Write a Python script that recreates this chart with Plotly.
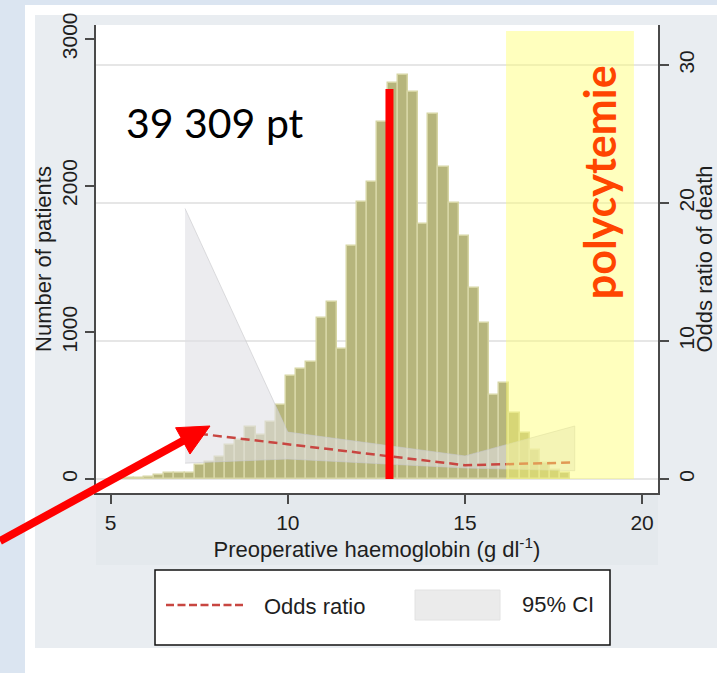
import plotly.graph_objects as go

# ---------------- data ----------------
# Histogram of preoperative haemoglobin (g/dl): 45 equal bins
HB_BIN_START = 5.08
HB_BIN_WIDTH = 0.2866
patients = [6, 8, 10, 12, 25, 40, 42, 44, 95, 116, 150, 232, 266, 354, 300,
            388, 504, 702, 750, 798, 1100, 1205, 886, 1588, 1888, 2025, 2434,
            2700, 2754, 2638, 1738, 2488, 2127, 1881, 1656, 1302, 1063, 573,
            656, 448, 316, 198, 109, 61, 41]

# Odds ratio of death (right axis)
or_hb = [7.1, 15.0, 18.1]
odds_ratio = [3.4, 1.0, 1.2]

# 95% confidence interval of the odds ratio
ci_hb = [7.1, 10.0, 15.0, 18.1]
ci_upper = [19.6, 3.4, 1.67, 3.84]
ci_lower = [1.15, 1.45, 0.8, 0.6]

# Overlaid annotations
median_hb = 12.87
median_line_top = 2659
poly_start, poly_end, poly_top = 16.16, 19.77, 3054
n_label = "39 309 pt"
poly_label = "polycytemie"
legend_labels = ["Odds ratio", "95% CI"]

x_ticks = [5, 10, 15, 20]
left_ticks = [0, 1000, 2000, 3000]
right_ticks = [0, 10, 20, 30]

# ---------------- figure ----------------
bin_centers = [HB_BIN_START + HB_BIN_WIDTH * (i + 0.5) for i in range(len(patients))]

AX = "#4a4a4a"
TXT = "#1e1e1e"
FONT = "Liberation Sans"
OR_COLOR = "rgb(200,70,65)"

fig = go.Figure()

fig.add_trace(go.Bar(
    x=bin_centers, y=patients, width=HB_BIN_WIDTH,
    marker=dict(color="rgb(182,181,124)", line=dict(color="rgb(214,213,164)", width=1.5)),
    showlegend=False, yaxis="y", hoverinfo="skip"))

fig.add_trace(go.Scatter(
    x=ci_hb + ci_hb[::-1], y=ci_upper + ci_lower[::-1],
    fill="toself", fillcolor="rgba(224,224,228,0.6)",
    line=dict(color="rgba(200,200,204,0.6)", width=1),
    mode="lines", name=legend_labels[1], yaxis="y2", showlegend=False))

fig.add_trace(go.Scatter(
    x=or_hb, y=odds_ratio, mode="lines", name=legend_labels[0],
    line=dict(color=OR_COLOR, width=2.5, dash="9px,5px"),
    yaxis="y2", showlegend=False))

# pixel geometry helpers for paper-referenced frame / legend / arrow
W, H = 717, 673
L, R, T, B = 96, 59, 25, 180
pw, ph = W - L - R, H - T - B


def px(xp):
    return (xp - L) / pw


def py(yp):
    return (H - B - yp) / ph


# arrow (pixel geometry of the slide decoration)
tail = (0, 541)
tip = (210, 426)
dx, dy = tip[0] - tail[0], tip[1] - tail[1]
ln = (dx * dx + dy * dy) ** 0.5
ux, uy = dx / ln, dy / ln
head_len, head_half = 31, 15
bx, by = tip[0] - head_len * ux, tip[1] - head_len * uy
c1 = (bx - head_half * uy, by + head_half * ux)
c2 = (bx + head_half * uy, by - head_half * ux)
head_path = "M {} {} L {} {} L {} {} Z".format(
    px(tip[0]), py(tip[1]), px(c1[0]), py(c1[1]), px(c2[0]), py(c2[1]))

shapes = [
    # graph region (light grey)
    dict(type="rect", xref="paper", yref="paper", x0=px(35), x1=px(717), y0=py(648), y1=py(15),
         fillcolor="#e9edf1", line=dict(width=0), layer="below"),
    dict(type="rect", xref="paper", yref="paper", x0=px(96), x1=px(658), y0=py(565), y1=py(493),
         fillcolor="#e4e9ed", line=dict(width=0), layer="below"),
    # white plot region
    dict(type="rect", xref="paper", yref="paper", x0=0, x1=1, y0=0, y1=1,
         fillcolor="white", line=dict(width=0), layer="below"),
    # slide background strips
    dict(type="rect", xref="paper", yref="paper", x0=px(0), x1=px(25), y0=py(673), y1=py(0),
         fillcolor="#dbe5f1", line=dict(width=0), layer="below"),
    dict(type="rect", xref="paper", yref="paper", x0=px(0), x1=px(717), y0=py(5), y1=py(0),
         fillcolor="#dbe5f1", line=dict(width=0), layer="below"),
    # legend frame and keys
    dict(type="rect", xref="paper", yref="paper", x0=px(155), x1=px(610), y0=py(645), y1=py(570),
         fillcolor="white", line=dict(color="#111", width=1.5), layer="above"),
    dict(type="line", xref="paper", yref="paper", x0=px(166), x1=px(246), y0=py(605), y1=py(605),
         line=dict(color=OR_COLOR, width=2.5, dash="8px,3.5px"), layer="above"),
    dict(type="rect", xref="paper", yref="paper", x0=px(415), x1=px(500), y0=py(620), y1=py(590),
         fillcolor="#ebebeb", line=dict(color="#e2e2e2", width=1), layer="above"),
    # polycythaemia zone
    dict(type="rect", xref="x", yref="y", x0=poly_start, x1=poly_end, y0=0, y1=poly_top,
         fillcolor="rgba(255,255,110,0.45)", line=dict(width=0), layer="above"),
    # median line
    dict(type="line", xref="x", yref="y", x0=median_hb, x1=median_hb, y0=0, y1=median_line_top,
         line=dict(color="#ff0000", width=8), layer="above"),
    # arrow shaft + head
    dict(type="line", xref="paper", yref="paper", x0=px(tail[0]), y0=py(tail[1]),
         x1=px(bx + 2 * ux), y1=py(by + 2 * uy), line=dict(color="#ff0000", width=8), layer="above"),
    dict(type="path", xref="paper", yref="paper", path=head_path,
         fillcolor="#ff0000", line=dict(color="#ff0000", width=1), layer="above"),
]

annotations = [
    dict(x=7.94, y=2434, xref="x", yref="y", text=n_label, showarrow=False,
         font=dict(family="Lato", size=41, color="black")),
    dict(x=18.79, y=2025, xref="x", yref="y", text="<b>" + poly_label + "</b>", showarrow=False,
         textangle=-90, font=dict(family="Lato", size=43, color="#ff4500")),
    dict(x=px(262), y=py(606), xref="paper", yref="paper", xanchor="left", yanchor="middle",
         text=legend_labels[0], showarrow=False, font=dict(family=FONT, size=22, color=TXT)),
    dict(x=px(520), y=py(604), xref="paper", yref="paper", xanchor="left", yanchor="middle",
         text=legend_labels[1], showarrow=False, font=dict(family=FONT, size=22, color=TXT)),
]

tickfont = dict(family=FONT, size=21, color=TXT)
titlefont = dict(family=FONT, size=22, color=TXT)

fig.update_layout(
    width=W, height=H,
    margin=dict(l=L, r=R, t=T, b=B, pad=0, autoexpand=False),
    paper_bgcolor="white", plot_bgcolor="white",
    bargap=0, shapes=shapes, annotations=annotations, showlegend=False,
    xaxis=dict(range=[4.586, 20.45], tickvals=x_ticks, ticks="outside", ticklen=9,
               tickwidth=1.5, tickcolor=AX, showline=True, linecolor=AX, linewidth=1.5,
               showgrid=False, zeroline=False, tickfont=tickfont, ticklabelstandoff=1,
               automargin=False,
               title=dict(text="Preoperative haemoglobin (g dl<sup>-1</sup>)", font=titlefont, standoff=4)),
    yaxis=dict(range=[-95.5, 3095.5], tickvals=left_ticks, ticks="outside", ticklen=9,
               tickwidth=1.5, tickcolor=AX, showline=True, linecolor=AX, linewidth=1.5,
               showgrid=False, zeroline=False, tickangle=-90, tickfont=tickfont, automargin=False,
               title=dict(text="Number of patients", font=titlefont, standoff=0)),
    yaxis2=dict(range=[-1.014, 32.9], tickvals=right_ticks, overlaying="y", side="right",
                ticks="outside", ticklen=9, tickwidth=1.5, tickcolor=AX, showline=True,
                linecolor=AX, linewidth=1.5, showgrid=True, gridcolor="#e6e6e6", gridwidth=1.5,
                zeroline=False, tickangle=-90, tickfont=tickfont, automargin=False,
                title=dict(text="Odds ratio of death", font=titlefont, standoff=4)),
)

fig.write_html("out.html")
